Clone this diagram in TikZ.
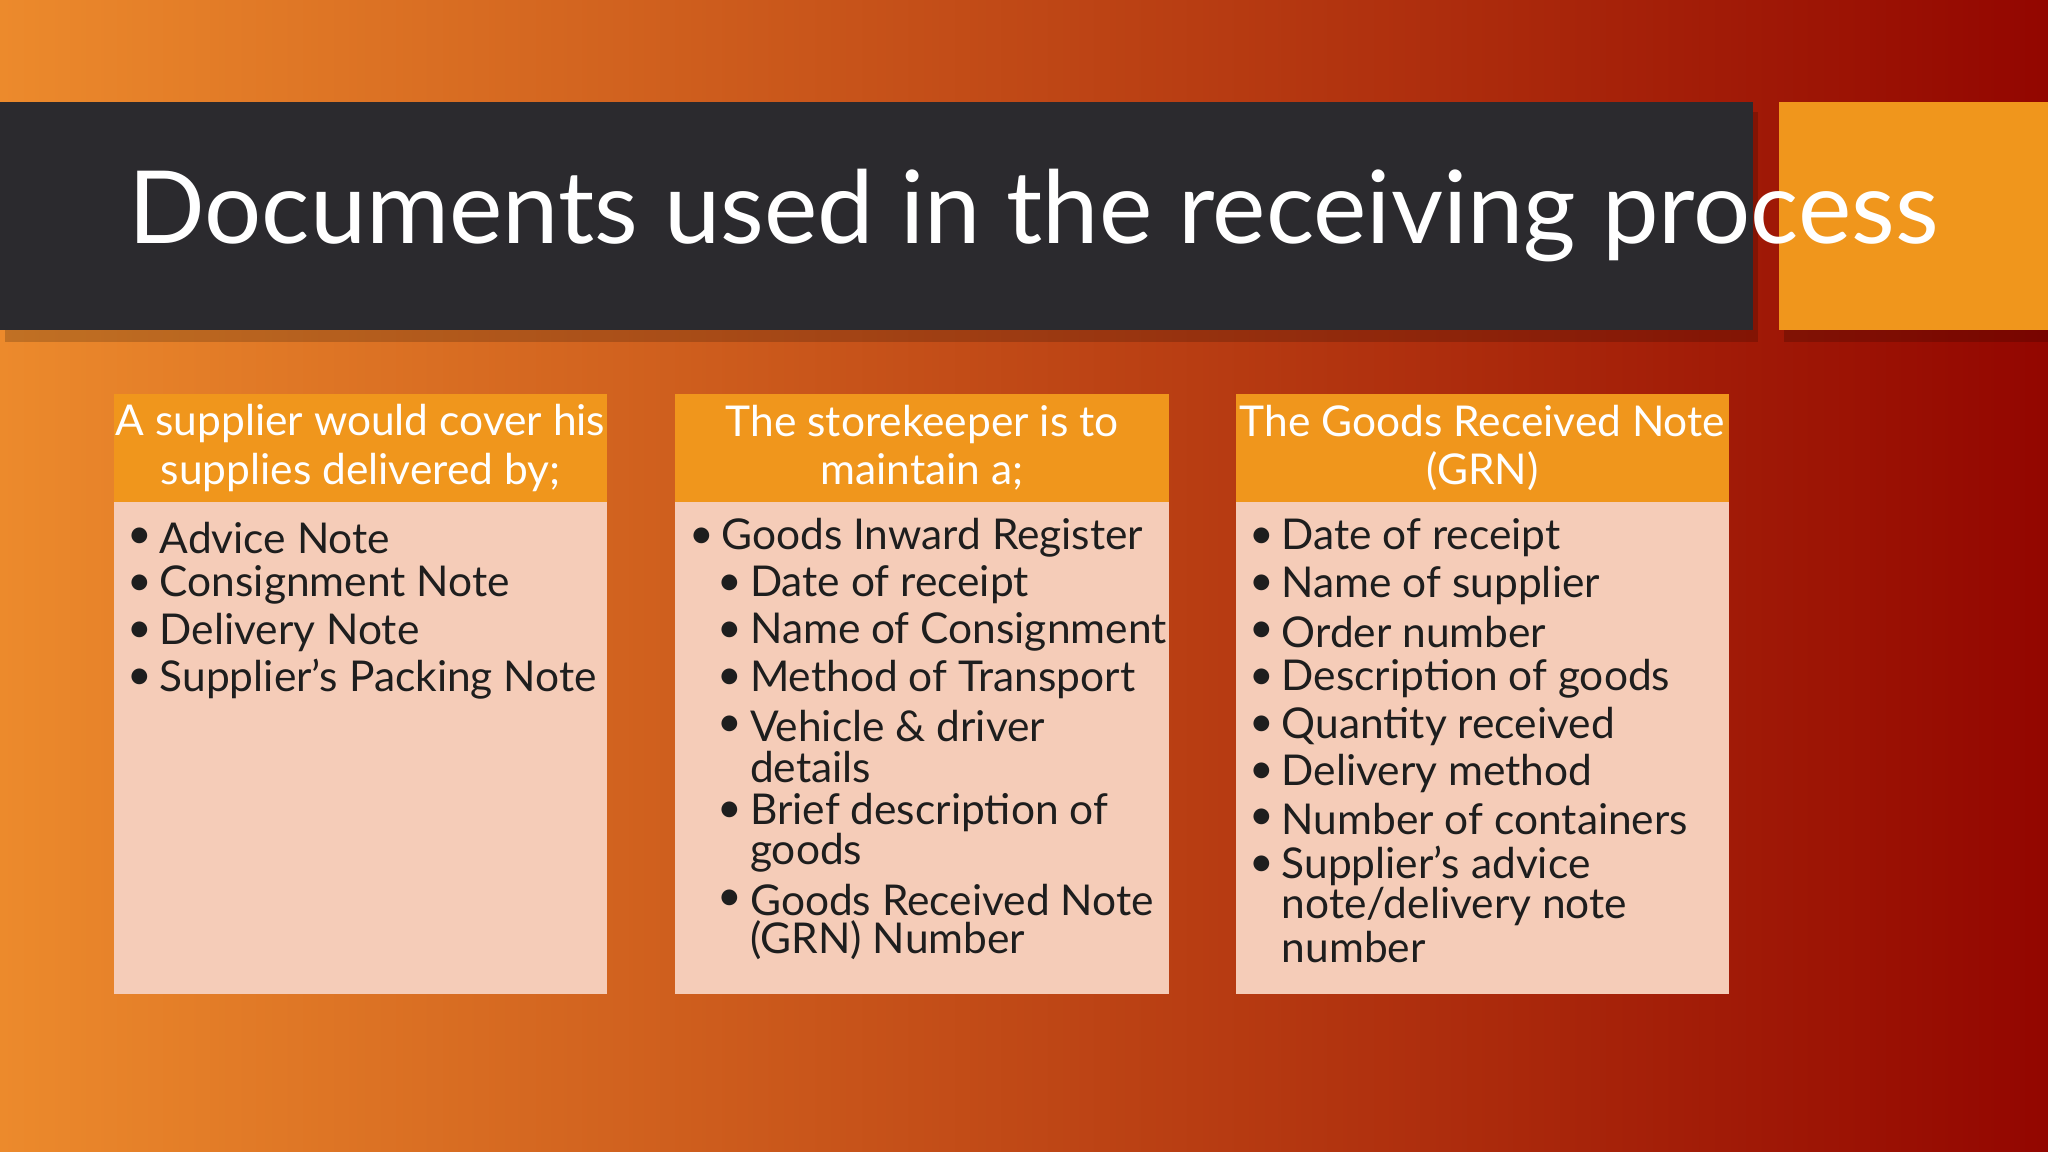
\documentclass[tikz,border=0pt]{standalone}
\usepackage{fontspec}
\setmainfont{Lato}
\definecolor{bgA}{HTML}{EC8A2C}
\definecolor{bgB}{HTML}{930600}
\definecolor{bar}{HTML}{2B2A2E}
\definecolor{org}{HTML}{F0961C}
\definecolor{pale}{HTML}{F5CCB8}
\definecolor{txt}{HTML}{1E1E1E}
\tikzset{
 hd/.style={fill=org,draw=none},
 bd/.style={fill=pale,draw=none},
 htxt/.style={text=white,font=\fontsize{18.5}{21}\selectfont,align=center},
 li/.style={anchor=west,text=txt,font=\fontsize{18.5}{21}\selectfont,inner sep=0pt},
 bul/.style={anchor=center,text=txt,font=\fontsize{18.5}{21}\selectfont,inner sep=0pt}
}
\newcommand{\itm}[4]{\node[bul] (b#1) at (#2-15,#3) {•}; \node[li] (t#1) at (#2,#3) {#4};}
\newcommand{\cnt}[4]{\node[li] (t#1) at (#2,#3) {#4};}
\begin{document}
\begin{tikzpicture}[x=0.02cm,y=-0.02cm]
\useasboundingbox (0,0) rectangle (1568,882);
\shade[shading=axis,shading angle=-60,left color=bgA,right color=bgB] (0,0) rectangle (1568,882);
\fill[black,opacity=0.18] (4,86) rectangle (1346,262);
\fill[black,opacity=0.18] (1366,86) rectangle (1568,262);
\fill[bar] (0,78) rectangle (1342,253);
\fill[org] (1362,78) rectangle (1568,253);
\node[anchor=west,text=white,font=\fontsize{44}{50}\selectfont,inner sep=0pt] (title) at (98,165) {Documents used in the receiving process};
\foreach \x/\n in {87/a,517/b,946/c}{
 \fill[bd] (\x,384) rectangle (\x+378,761);
 \fill[hd] (\x,302) rectangle (\x+378,384);
}
\node[htxt] (ha) at (276,343) {A supplier would cover his\\supplies delivered by;};
\node[htxt] (hb) at (706,343) {The storekeeper is to\\maintain a;};
\node[htxt] (hc) at (1135,343) {The Goods Received Note\\(GRN)};
\itm{a1}{122}{412}{Advice Note}
\itm{a2}{122}{448}{Consignment Note}
\itm{a3}{122}{484}{Delivery Note}
\itm{a4}{122}{520}{Supplier’s Packing Note}
\itm{b1}{552}{412}{Goods Inward Register}
\itm{b2}{574}{448}{Date of receipt}
\itm{b3}{574}{484}{Name of Consignment}
\itm{b4}{574}{520}{Method of Transport}
\itm{b5}{574}{556}{Vehicle \& driver}
\cnt{b5x}{574}{587}{details}
\itm{b6}{574}{622}{Brief description of}
\cnt{b6x}{574}{653}{goods}
\itm{b7}{574}{689}{Goods Received Note}
\cnt{b7x}{574}{720}{(GRN) Number}
\itm{c1}{981}{412}{Date of receipt}
\itm{c2}{981}{448}{Name of supplier}
\itm{c3}{981}{484}{Order number}
\itm{c4}{981}{520}{Description of goods}
\itm{c5}{981}{556}{Quantity received}
\itm{c6}{981}{592}{Delivery method}
\itm{c7}{981}{627}{Number of containers}
\itm{c8}{981}{663}{Supplier’s advice}
\cnt{c8x}{981}{694}{note/delivery note}
\cnt{c8y}{981}{725}{number}
\end{tikzpicture}
\end{document}
